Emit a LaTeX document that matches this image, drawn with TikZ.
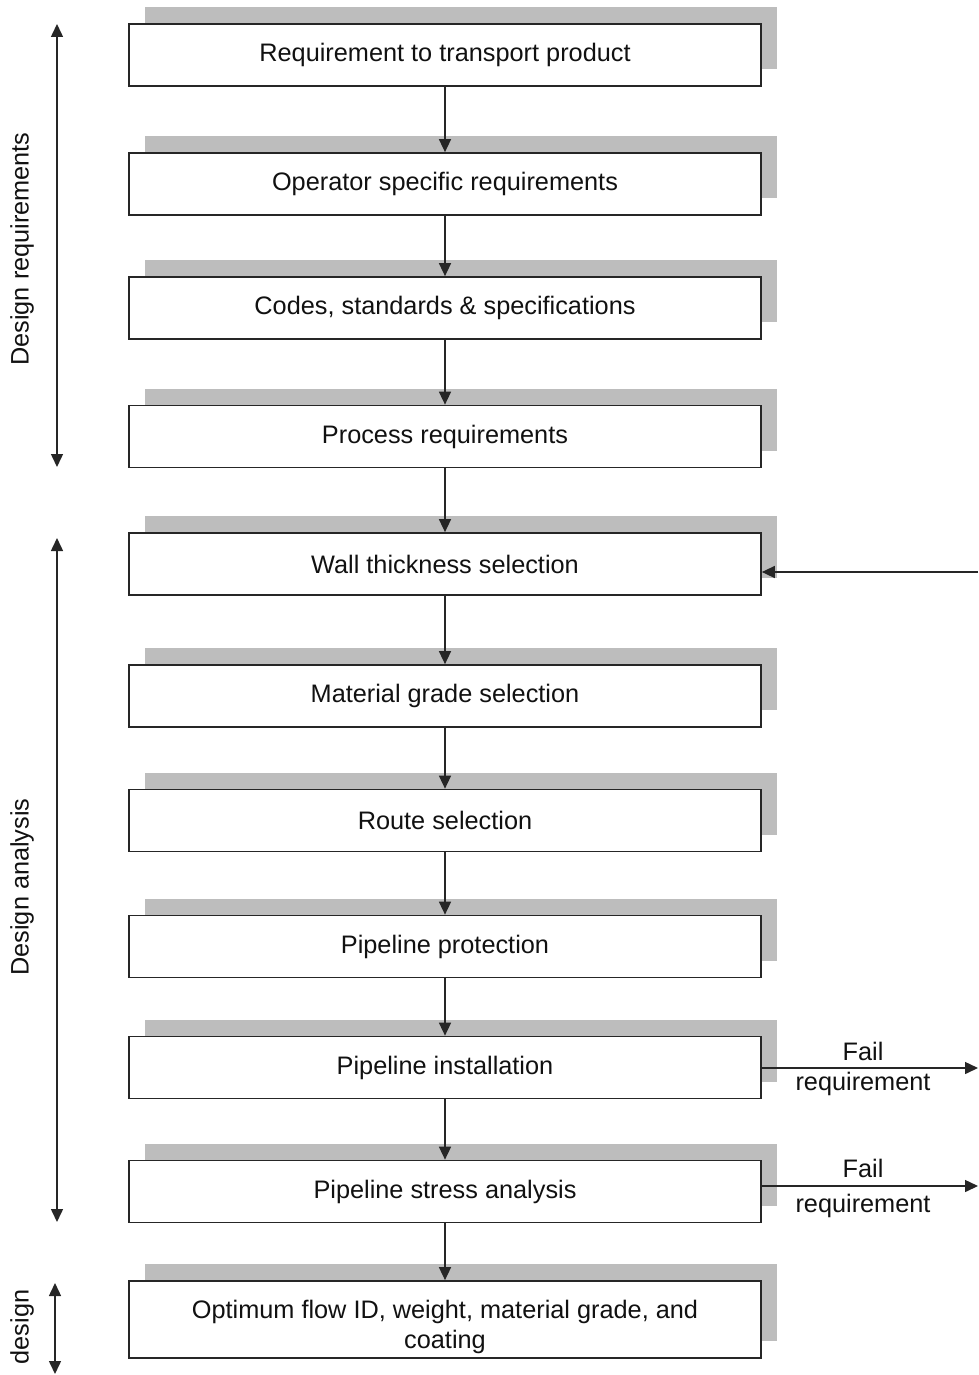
\documentclass[tikz,border=0pt]{standalone}
\usepackage{fontspec}
\setmainfont{Liberation Sans}
\usetikzlibrary{arrows.meta,shadows}
\definecolor{shadowgray}{HTML}{BDBDBD}
\definecolor{textgray}{HTML}{111111}
\begin{document}
\begin{tikzpicture}[x=1pt,y=-1pt,
  stepbox/.style={draw=black!85, line width=1.7pt, fill=white, minimum width=632pt, minimum height=62pt, inner sep=0pt, align=center,
    font=\fontsize{25.3}{30}\selectfont, text=textgray,
    general shadow={fill=shadowgray, draw=none, shadow xshift=16pt, shadow yshift=17pt}},
  conn/.style={line width=1.5pt, draw=black!85, -{Triangle[length=13pt,width=12pt]}},
  bothconn/.style={line width=1.5pt, draw=black!85, {Triangle[length=13pt,width=12pt]}-{Triangle[length=13pt,width=12pt]}},
  sidelabel/.style={rotate=90, font=\fontsize{25.3}{28}\selectfont, text=textgray, inner sep=0pt},
  faillabel/.style={font=\fontsize{25.3}{28}\selectfont, text=textgray, inner sep=0pt}]
\useasboundingbox (0,0) rectangle (978,1375);

\node[stepbox] (b1) at (445,55) {Requirement to transport product};
\node[stepbox] (b2) at (445,184) {Operator specific requirements};
\node[stepbox] (b3) at (445,308) {Codes, standards \& specifications};
\node[stepbox] (b4) at (445,436.5) {Process requirements};
\node[stepbox] (b5) at (445,564) {Wall thickness selection};
\node[stepbox] (b6) at (445,696) {Material grade selection};
\node[stepbox] (b7) at (445,820.5) {Route selection};
\node[stepbox] (b8) at (445,946.5) {Pipeline protection};
\node[stepbox] (b9) at (445,1067.5) {Pipeline installation};
\node[stepbox] (b10) at (445,1191.5) {Pipeline stress analysis};
\node[stepbox, minimum height=77pt] (b11) at (445,1319.5) {};
\node[align=center, inner sep=0pt, font=\fontsize{25.3}{30}\selectfont, text=textgray] (b11t) at (445,1327) {Optimum flow ID, weight, material grade, and\\coating};

\draw[conn] (b1) -- (b2);
\draw[conn] (b2) -- (b3);
\draw[conn] (b3) -- (b4);
\draw[conn] (b4) -- (b5);
\draw[conn] (b5) -- (b6);
\draw[conn] (b6) -- (b7);
\draw[conn] (b7) -- (b8);
\draw[conn] (b8) -- (b9);
\draw[conn] (b9) -- (b10);
\draw[conn] (b10) -- (b11);

% feedback into wall thickness
\coordinate (fbin) at (978,572);
\draw[conn] (fbin) -- (fbin -| b5.east);

% fail requirement arrows
\coordinate (f9) at (978,1068);
\coordinate (f10) at (978,1186);
\draw[conn] (b9.east |- f9) -- (f9);
\draw[conn] (b10.east |- f10) -- (f10);
\node[faillabel] (fl9a) at (863,1051) {Fail};
\node[faillabel] (fl9b) at (863,1084) {requirement};
\node[faillabel] (fl10a) at (863,1168) {Fail};
\node[faillabel] (fl10b) at (863,1206) {requirement};

% side arrows
\coordinate (dr1) at (57,24);
\coordinate (dr2) at (57,467);
\draw[bothconn] (dr1) -- (dr2);
\node[sidelabel] (drl) at (22,249) {Design requirements};

\coordinate (da1) at (57,538);
\coordinate (da2) at (57,1222);
\draw[bothconn] (da1) -- (da2);
\node[sidelabel] (dal) at (22,887) {Design analysis};

\coordinate (dd1) at (55,1283);
\coordinate (dd2) at (55,1374);
\draw[bothconn] (dd1) -- (dd2);
\node[sidelabel] (ddl) at (22,1327) {design};
\end{tikzpicture}
\end{document}
